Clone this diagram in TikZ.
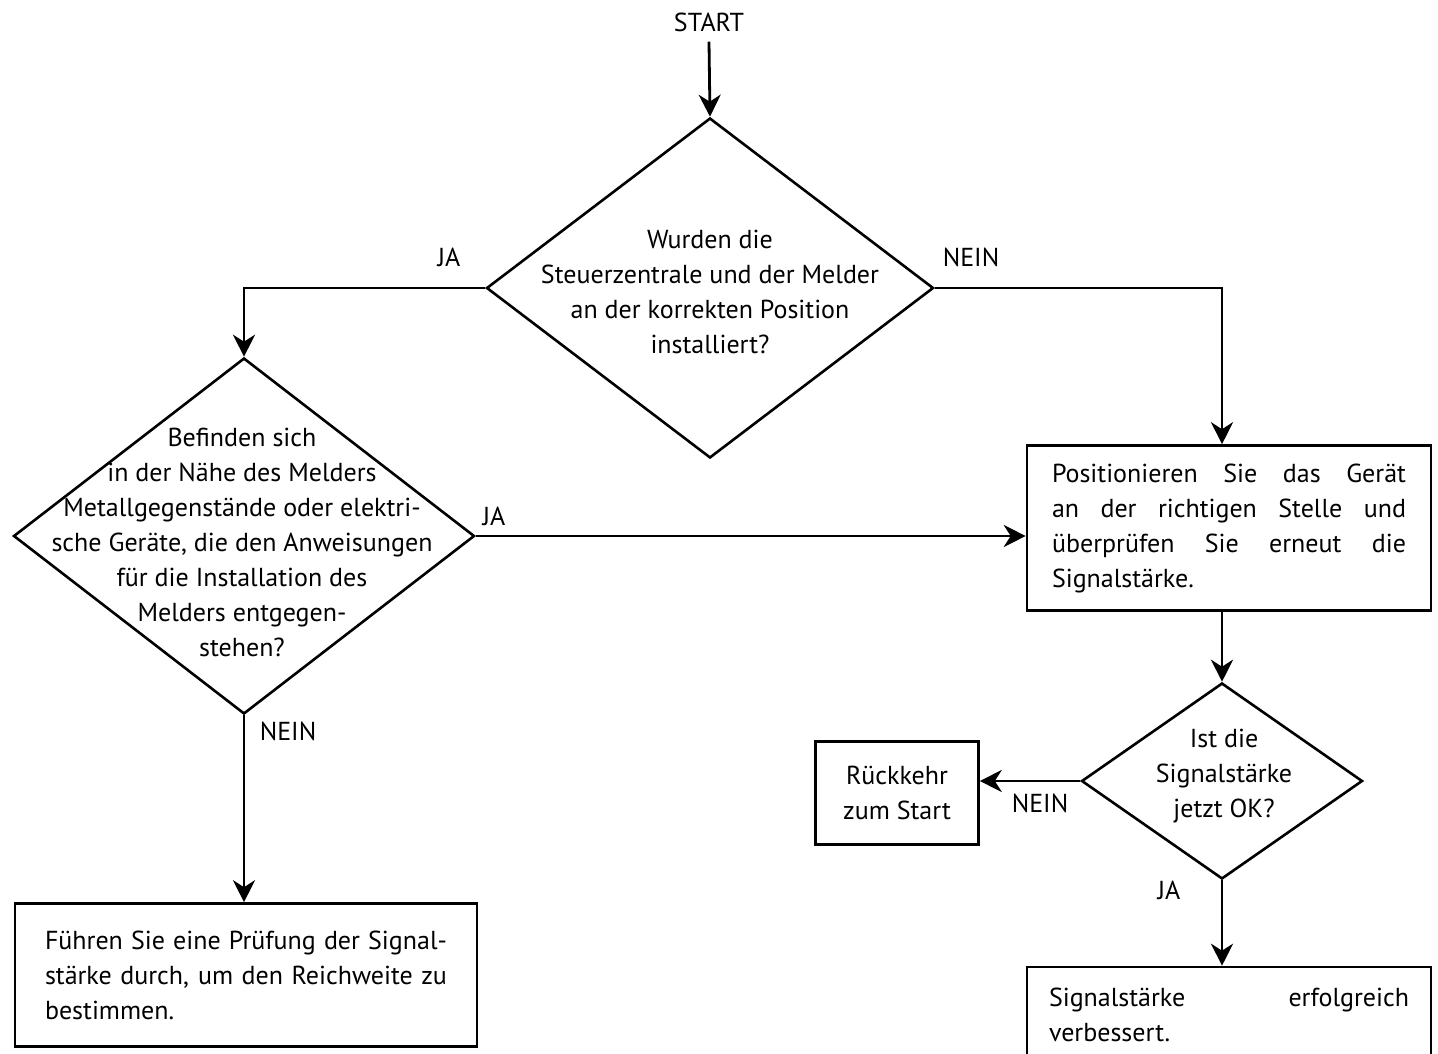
\documentclass[tikz,border=0pt]{standalone}
\usepackage{fontspec}
\setmainfont{PT Sans}
\usetikzlibrary{arrows.meta,positioning,shapes.geometric}

\newcommand{\fillline}[1]{\makebox[\hsize][s]{\spaceskip=0pt #1}}

\tikzset{
  decision/.style={diamond, draw, line width=2.6pt, inner sep=0pt},
  block/.style={rectangle, draw, line width=2.6pt, inner sep=0pt},
  flow/.style={line width=2.8pt, -{Stealth[length=22pt,width=22pt,inset=7pt]}},
  lbl/.style={inner sep=0pt}
}

\begin{document}
\begin{tikzpicture}[x=1pt,y=-1pt,font=\fontsize{26}{35}\selectfont]
\useasboundingbox (0,0) rectangle (1438,1054);
\clip (0,0) rectangle (1438,1054);

\node[lbl] (start) at (709,22) {START};

\node[decision, minimum width=447, minimum height=340] (q1) at (710,288) {};
\node[lbl, align=center] (q1t) at (710,292) {Wurden die\\Steuerzentrale und der Melder\\an der korrekten Position\\installiert?};

\node[decision, minimum width=461, minimum height=356] (q2) at (244,536) {};
\node[lbl, align=center] (q2t) at (242,542) {Befinden sich\\in der Nähe des Melders\\Metallgegenstände oder elektri-\\sche Geräte, die den Anweisungen\\für die Installation des\\Melders entgegen-\\stehen?};

\node[block, minimum width=404, minimum height=165, text width=354, align=justify] (pos) at (1229,528)
  {\fillline{Positionieren Sie das Gerät}\\\fillline{an der richtigen Stelle und}\\\fillline{überprüfen Sie erneut die}\\Signalstärke.};

\node[decision, minimum width=281, minimum height=196] (q3) at (1222,781) {};
\node[lbl, align=center] (q3t) at (1224,776) {Ist die\\Signalstärke\\jetzt OK?};

\node[block, minimum width=163, minimum height=103, align=center] (back) at (897,793) {Rückkehr\\zum Start};

\node[block, minimum width=462, minimum height=143, text width=402, align=justify] (check) at (246,975)
  {\fillline{Führen Sie eine Prüfung der Signal-}\\\fillline{stärke durch, um den Reichweite zu}\\bestimmen.};

\node[block, minimum width=404, minimum height=96, text width=360, align=justify] (done) at (1229,1015)
  {\fillline{Signalstärke erfolgreich}\\verbessert.};

\draw[flow] (start.south) ++(0,10) -- (q1.north);
\draw[flow] (q1.west) -| (q2.north);
\draw[flow] (q1.east) -| (q3.north |- pos.north);
\draw[flow] (q2.east) -- (q2.east -| pos.west);
\draw[flow] (q2.south) -- (q2.south |- check.north);
\draw[flow] (q3.north |- pos.south) -- (q3.north);
\draw[flow] (q3.west) -- (q3.west -| back.east);
\draw[flow] (q3.south) -- (q3.south |- done.north);

\node[lbl] (ja1) at (449,257) {JA};
\node[lbl] (nein1) at (971,257) {NEIN};
\node[lbl] (ja2) at (494,516) {JA};
\node[lbl] (nein2) at (288,731) {NEIN};
\node[lbl] (nein3) at (1040,803) {NEIN};
\node[lbl] (ja3) at (1169,890) {JA};
\end{tikzpicture}
\end{document}
